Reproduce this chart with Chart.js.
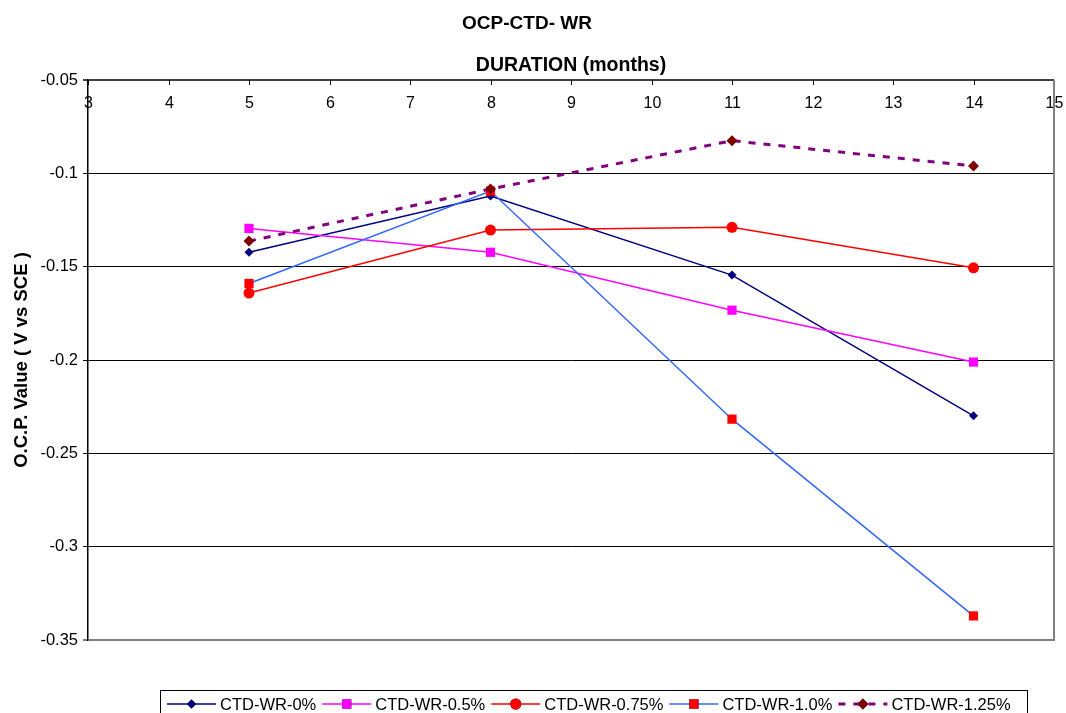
<!DOCTYPE html>
<html>
<head>
<meta charset="utf-8">
<title>OCP-CTD- WR</title>
<script src="https://cdn.jsdelivr.net/npm/chart.js@4.4.1/dist/chart.umd.min.js"></script>
<style>
  html, body { margin: 0; padding: 0; background: #fff; }
  #wrap { width: 1066px; height: 713px; position: relative; }
</style>
</head>
<body>
<div id="wrap"><canvas id="ocpChart"></canvas></div>
<script>
// Duration in months and OCP readings (V vs SCE) for each WR level
const durations = [5, 8, 11, 14];
const wr0 = [-0.1423, -0.1122, -0.1545, -0.2299];
const wr05 = [-0.1295, -0.1423, -0.1733, -0.2011];
const wr075 = [-0.1641, -0.1304, -0.1289, -0.1506];
const wr10 = [-0.1590, -0.1095, -0.2317, -0.3371];
const wr125 = [-0.1363, -0.1084, -0.0825, -0.0961];

const seriesLabels = ['CTD-WR-0%', 'CTD-WR-0.5%', 'CTD-WR-0.75%', 'CTD-WR-1.0%', 'CTD-WR-1.25%'];
const xTicks = [3, 4, 5, 6, 7, 8, 9, 10, 11, 12, 13, 14, 15];
const yTicks = [-0.05, -0.1, -0.15, -0.2, -0.25, -0.3, -0.35];

const FONT = '"Liberation Sans", Arial, sans-serif';

function pts(values) {
    return durations.map((d, i) => ({ x: d, y: values[i] }));
}

// Tick labels sit just under the top axis line, inside the plot
const innerXTicks = {
    id: 'innerXTicks',
    afterDraw(chart) {
        const { ctx, chartArea } = chart;
        const xs = chart.scales.x;
        ctx.save();
        ctx.strokeStyle = '#000';
        ctx.lineWidth = 1;
        ctx.fillStyle = '#000';
        ctx.font = '16px ' + FONT;
        ctx.textAlign = 'center';
        ctx.textBaseline = 'middle';
        xTicks.forEach(v => {
            const px = Math.round(xs.getPixelForValue(v)) + 0.5;
            ctx.beginPath();
            ctx.moveTo(px, chartArea.top);
            ctx.lineTo(px, chartArea.top + 5);
            ctx.stroke();
            ctx.fillText(String(v), px, chartArea.top + 24);
        });
        // right edge of the plot frame
        ctx.strokeStyle = '#808080';
        ctx.lineWidth = 2;
        ctx.beginPath();
        ctx.moveTo(chartArea.right, chartArea.top);
        ctx.lineTo(chartArea.right, chartArea.bottom + 1);
        ctx.stroke();
        ctx.restore();
    }
};

// Legend row with a line sample and marker for each series
const lineLegend = {
    id: 'lineLegend',
    afterDraw(chart) {
        const { ctx } = chart;
        const sets = chart.data.datasets;
        const top = 690, left = 160, right = 1027, cy = 704;
        ctx.save();
        ctx.strokeStyle = '#000';
        ctx.lineWidth = 1;
        ctx.strokeRect(left + 0.5, top + 0.5, right - left, 40);
        ctx.font = '16.5px ' + FONT;
        ctx.textBaseline = 'middle';
        ctx.textAlign = 'left';
        let x = 167;
        sets.forEach(ds => {
            const len = 49;
            ctx.save();
            ctx.strokeStyle = ds.borderColor;
            ctx.lineWidth = ds.borderWidth;
            ctx.setLineDash(ds.borderDash || []);
            ctx.beginPath();
            ctx.moveTo(x, cy);
            ctx.lineTo(x + len, cy);
            ctx.stroke();
            ctx.restore();
            Chart.helpers.drawPoint(ctx, {
                pointStyle: ds.pointStyle,
                radius: ds.pointRadius,
                borderWidth: 0
            }, x + len / 2, cy);
            ctx.fillStyle = ds.pointBackgroundColor;
            ctx.fill();
            ctx.fillStyle = '#000';
            ctx.fillText(ds.label, x + len + 4, cy + 1);
            x += len + 4 + ctx.measureText(ds.label).width + 6;
        });
        ctx.restore();
    }
};

const styles = [
    { line: '#000080', point: '#000080', shape: 'rectRot', r: 4.5, w: 1.5 },
    { line: '#FF00FF', point: '#FF00FF', shape: 'rect', r: 6.5, w: 1.5 },
    { line: '#FF0000', point: '#FF0000', shape: 'circle', r: 5.5, w: 1.5 },
    { line: '#3366FF', point: '#FF0000', shape: 'rect', r: 6.5, w: 1.5 },
    { line: '#800080', point: '#800000', shape: 'rectRot', r: 5.5, w: 3, dash: [7, 8] }
];
const seriesValues = [wr0, wr05, wr075, wr10, wr125];

const datasets = seriesValues.map((vals, i) => ({
    label: seriesLabels[i],
    data: pts(vals),
    borderColor: styles[i].line,
    borderWidth: styles[i].w,
    borderDash: styles[i].dash || [],
    borderCapStyle: 'butt',
    pointStyle: styles[i].shape,
    pointRadius: styles[i].r,
    pointHoverRadius: styles[i].r,
    pointBackgroundColor: styles[i].point,
    pointBorderColor: styles[i].point,
    pointBorderWidth: 0,
    tension: 0,
    fill: false,
    order: seriesValues.length - i
}));

new Chart(document.getElementById('ocpChart'), {
    type: 'line',
    data: { datasets: datasets },
    plugins: [innerXTicks, lineLegend],
    options: {
        responsive: true,
        maintainAspectRatio: false,
        animation: false,
        layout: { padding: { top: 0, left: 0, right: 12, bottom: 73 } },
        plugins: {
            legend: { display: false },
            tooltip: { enabled: false },
            title: {
                display: true,
                text: 'OCP-CTD- WR',
                color: '#000',
                font: { family: FONT, size: 19, weight: 'bold', lineHeight: 1.2 },
                padding: { top: 12, bottom: 8 }
            }
        },
        scales: {
            x: {
                type: 'linear',
                position: 'top',
                min: 3,
                max: 15,
                afterBuildTicks: s => { s.ticks = xTicks.map(v => ({ value: v })); },
                afterFit: s => { s.height = 37.2; },
                ticks: { display: false },
                grid: { display: false, drawTicks: false },
                border: { display: false },
                title: {
                    display: true,
                    text: 'DURATION (months)',
                    color: '#000',
                    font: { family: FONT, size: 19.5, weight: 'bold', lineHeight: 1.2 },
                    padding: { top: 11, bottom: 0 }
                }
            },
            y: {
                type: 'linear',
                position: 'left',
                min: -0.35,
                max: -0.05,
                afterBuildTicks: s => { s.ticks = yTicks.map(v => ({ value: v })); },
                afterFit: s => { s.width = 88; },
                ticks: {
                    color: '#000',
                    padding: 5,
                    font: { family: FONT, size: 16.5 },
                    callback: v => String(v)
                },
                grid: {
                    drawTicks: true,
                    tickLength: 5,
                    color: c => {
                        if (!c.tick) return '#000';
                        if (c.tick.value === -0.35) return '#808080';
                        if (c.tick.value === -0.05) return '#404040';
                        return '#000';
                    },
                    lineWidth: c => (c.tick && (c.tick.value === -0.35 || c.tick.value === -0.05)) ? 2 : 1
                },
                border: { display: true, color: '#000', width: 1.5 },
                title: {
                    display: true,
                    text: 'O.C.P. Value ( V vs SCE )',
                    color: '#000',
                    font: { family: FONT, size: 18.5, weight: 'bold', lineHeight: 1.2 },
                    padding: { top: 11, bottom: 0 }
                }
            }
        }
    }
});
</script>
</body>
</html>
